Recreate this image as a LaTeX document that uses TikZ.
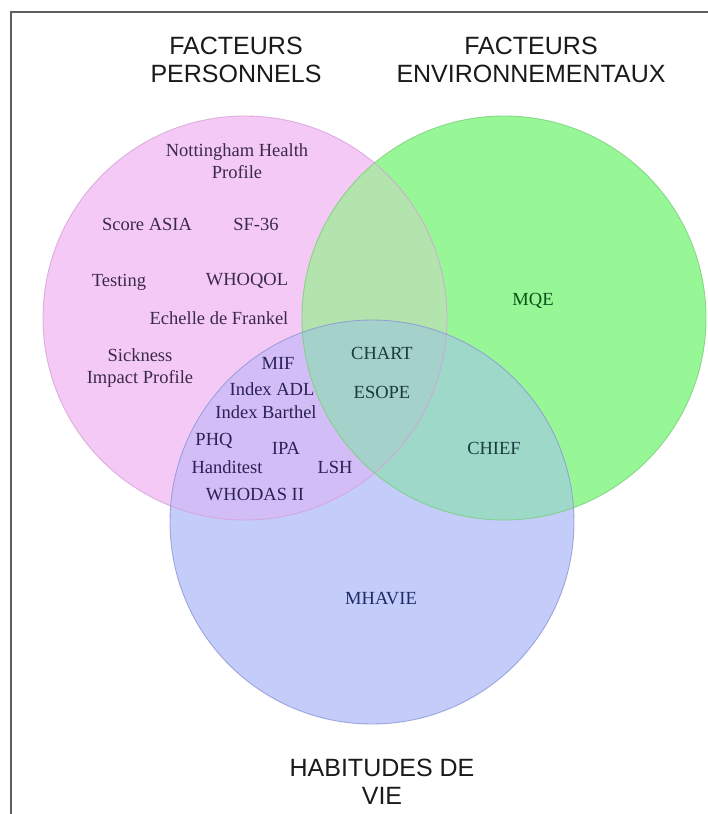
\documentclass[tikz,border=0pt]{standalone}
\usepackage{fontspec}
\setmainfont{Liberation Serif}
\newfontfamily\labelsans{Liberation Sans}
\definecolor{pinkc}{HTML}{F5C9F6}
\definecolor{greenc}{HTML}{97F797}
\definecolor{bluec}{HTML}{C4CCFA}
\definecolor{pgc}{HTML}{B4E4AE}
\definecolor{pbc}{HTML}{D3BDF6}
\definecolor{gbc}{HTML}{9DD8C9}
\definecolor{allc}{HTML}{A4D1C9}
\definecolor{pinkline}{HTML}{D5A2D8}
\definecolor{greenline}{HTML}{7CCF7C}
\definecolor{blueline}{HTML}{8E98D4}
\definecolor{framecol}{HTML}{5E5E5E}
\definecolor{pinktext}{HTML}{3A2A48}
\definecolor{lavtext}{HTML}{2A2155}
\definecolor{tealtext}{HTML}{1B3B3E}
\definecolor{greentext}{HTML}{0B5216}
\definecolor{bluetext}{HTML}{1D2A63}
\definecolor{titletext}{HTML}{1A1A1A}
\begin{document}
\begin{tikzpicture}[x=1pt,y=-1pt,
  lab/.style={font=\fontsize{18.5}{22}\selectfont, text height=12.2pt, text depth=0pt, inner sep=0pt},
  labtwo/.style={font=\fontsize{18.5}{22}\selectfont, align=center, inner sep=0pt},
  title/.style={font=\labelsans\fontsize{25}{28}\selectfont, align=center, inner sep=0pt, text=titletext},
  outline/.style={line width=0.9pt, draw opacity=0.8}]
\useasboundingbox (0,0) rectangle (708,814);
\fill[white] (0,0) rectangle (708,814);
\draw[framecol, line width=2pt] (11,814) -- (11,12) -- (708,12);

\coordinate (P) at (245,318);
\coordinate (G) at (504,318);
\coordinate (B) at (372,522);

\fill[pinkc] (P) circle[radius=202];
\fill[greenc] (G) circle[radius=202];
\fill[bluec] (B) circle[radius=202];
\begin{scope}
  \clip (P) circle[radius=202];
  \fill[pgc] (G) circle[radius=202];
  \fill[pbc] (B) circle[radius=202];
\end{scope}
\begin{scope}
  \clip (G) circle[radius=202];
  \fill[gbc] (B) circle[radius=202];
  \clip (B) circle[radius=202];
  \fill[allc] (P) circle[radius=202];
\end{scope}
\draw[outline, pinkline] (P) circle[radius=202];
\draw[outline, greenline] (G) circle[radius=202];
\draw[outline, blueline] (B) circle[radius=202];

\node[title] (fp) at (236,60) {FACTEURS\\PERSONNELS};
\node[title] (fe) at (531,60) {FACTEURS\\ENVIRONNEMENTAUX};
\node[title] (hv) at (382,782) {HABITUDES DE\\VIE};

\node[labtwo, text=pinktext] (nhp) at (237,161) {Nottingham Health\\Profile};
\node[lab, text=pinktext] (score) at (147,224) {Score ASIA};
\node[lab, text=pinktext] (sf) at (256,224) {SF-36};
\node[lab, text=pinktext] (testing) at (119,280) {Testing};
\node[lab, text=pinktext] (whoqol) at (247,279) {WHOQOL};
\node[lab, text=pinktext] (echelle) at (219,318) {Echelle de Frankel};
\node[labtwo, text=pinktext] (sick) at (140,368) {Sickness\\Impact Profile};

\node[lab, text=lavtext] (mif) at (278,363) {MIF};
\node[lab, text=lavtext] (adl) at (272,389) {Index ADL};
\node[lab, text=lavtext] (barthel) at (266,412) {Index Barthel};
\node[lab, text=lavtext] (phq) at (214,439) {PHQ};
\node[lab, text=lavtext] (ipa) at (286,448) {IPA};
\node[lab, text=lavtext] (handi) at (227,467) {Handitest};
\node[lab, text=lavtext] (lsh) at (335,467) {LSH};
\node[lab, text=lavtext] (whodas) at (255,494) {WHODAS II};

\node[lab, text=tealtext] (chart) at (382,353) {CHART};
\node[lab, text=tealtext] (esope) at (382,392) {ESOPE};
\node[lab, text=tealtext] (chief) at (494,448) {CHIEF};
\node[lab, text=greentext] (mqe) at (533,299) {MQE};
\node[lab, text=bluetext] (mhavie) at (381,598) {MHAVIE};
\end{tikzpicture}
\end{document}
